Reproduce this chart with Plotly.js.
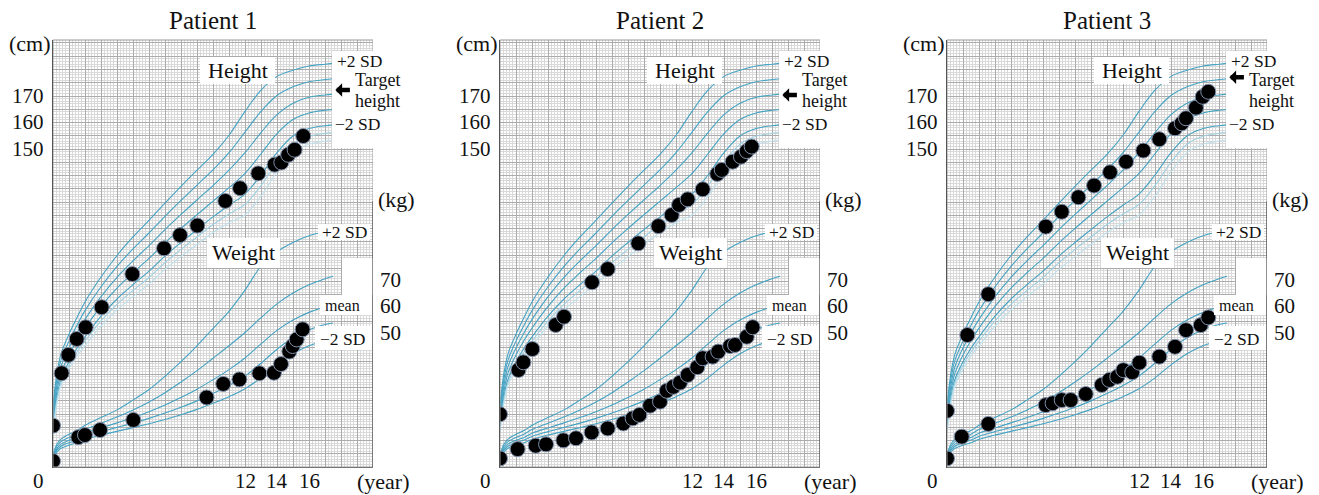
<!DOCTYPE html>
<html><head><meta charset="utf-8">
<script src="https://cdn.plot.ly/plotly-3.0.1.min.js"></script>
<style>html,body{margin:0;padding:0;background:#fff}#chart{width:1319px;height:495px}</style>
</head><body><div id="chart"></div>
<script>
// ---------- data ----------
const patientTitles = ["Patient 1", "Patient 2", "Patient 3"];
const curveAges = [0, 0.25, 0.5, 1, 1.5, 2, 3, 4, 5, 6, 7, 8, 9, 10, 11, 12, 13, 14, 15, 16, 17, 17.5];
// height reference curves (cm)
const hPlus2  = [53.2, 65.6, 72.7, 80.1, 86.4, 92.3, 101.7, 109.8, 116.8, 123.1, 129.6, 135.9, 142.0, 148.0, 155.2, 164.2, 172.2, 177.4, 179.7, 181.3, 182.0, 182.3];
const hPlus1  = [51.1, 63.3, 70.3, 77.5, 83.5, 89.0, 98.0, 105.7, 112.3, 118.3, 124.6, 130.6, 136.4, 142.1, 148.6, 156.4, 164.2, 170.2, 173.5, 175.4, 176.2, 176.5];
const hMean   = [49.0, 61.0, 67.9, 74.9, 80.6, 85.7, 94.3, 101.6, 107.8, 113.5, 119.6, 125.3, 130.8, 136.2, 142.0, 148.6, 156.2, 163.0, 167.3, 169.5, 170.4, 170.7];
const hMinus1 = [46.9, 58.7, 65.5, 72.3, 77.7, 82.4, 90.6, 97.5, 103.3, 108.7, 114.6, 120.0, 125.2, 130.3, 135.4, 140.8, 148.2, 155.8, 161.1, 163.6, 164.6, 164.9];
const hMinus2 = [44.8, 56.4, 63.1, 69.7, 74.8, 79.1, 86.9, 93.4, 98.8, 103.9, 109.6, 114.7, 119.6, 124.4, 128.8, 133.0, 140.2, 148.6, 154.9, 157.7, 158.8, 159.1];
const hMinus25= [43.8, 55.3, 61.9, 68.4, 73.4, 77.5, 85.1, 91.4, 96.6, 101.5, 107.1, 112.1, 116.8, 121.5, 125.5, 129.1, 136.2, 145.0, 151.8, 154.8, 155.9, 156.2];
const hMinus3 = [42.7, 54.1, 60.7, 67.1, 71.9, 75.8, 83.2, 89.3, 94.3, 99.1, 104.6, 109.4, 114.0, 118.5, 122.2, 125.2, 132.2, 141.4, 148.7, 151.8, 153.0, 153.3];
// weight reference curves (kg)
const wPlus2  = [3.9, 7.9, 9.8, 11.6, 13.0, 15.0, 17.9, 20.8, 24.5, 28.5, 33.5, 39.0, 45.0, 51.5, 58.0, 66.0, 75.0, 80.5, 84.0, 86.5, 88.0, 88.5];
const wPlus1  = [3.4, 7.1, 8.8, 10.4, 11.6, 13.4, 15.8, 18.1, 20.8, 23.8, 27.3, 31.3, 35.6, 40.3, 45.0, 50.0, 55.6, 60.8, 64.9, 68.0, 70.3, 71.2];
const wMean   = [3.0, 6.3, 7.9, 9.3, 10.4, 12.0, 14.0, 15.9, 17.9, 20.1, 22.6, 25.5, 28.6, 32.2, 36.0, 40.4, 45.7, 50.8, 54.7, 57.6, 59.6, 60.3];
const wMinus1 = [2.6, 5.6, 7.1, 8.4, 9.4, 10.8, 12.6, 14.2, 15.8, 17.6, 19.6, 21.8, 24.2, 27.0, 30.0, 33.6, 38.4, 43.7, 48.0, 51.0, 53.0, 53.6];
const wMinus2 = [2.2, 4.9, 6.3, 7.5, 8.4, 9.7, 11.3, 12.7, 14.1, 15.6, 17.2, 19.0, 21.0, 23.3, 25.8, 28.8, 32.9, 37.8, 42.0, 45.0, 47.0, 47.6];
// patient measurements
const p1HeightAge = [0, 0.54, 0.96, 1.48, 2.04, 3.04, 4.96, 6.94, 7.94, 9.02, 10.77, 11.69, 12.83, 13.85, 14.27, 14.7, 15.1, 15.64];
const p1Height    = [45.6, 65.4, 72.3, 78.3, 82.7, 90.3, 102.8, 112.5, 117.5, 121.1, 130.4, 135.2, 140.8, 144.1, 144.9, 147.8, 149.7, 154.9];
const p1WeightAge = [0, 1.58, 2.0, 2.94, 5.02, 9.6, 10.64, 11.65, 12.9, 13.81, 14.25, 14.77, 14.98, 15.23, 15.6];
const p1Weight    = [1.5, 10.5, 11.3, 13.2, 17.0, 25.5, 30.6, 32.3, 34.6, 34.8, 38.1, 42.8, 44.9, 47.4, 51.2];
const p2HeightAge = [0, 1.15, 1.46, 2.02, 3.48, 4.0, 5.75, 6.73, 8.64, 9.9, 10.73, 11.19, 11.73, 12.67, 13.58, 13.86, 14.54, 15.06, 15.42, 15.73];
const p2Height    = [49.9, 66.6, 69.5, 74.5, 83.6, 86.7, 99.7, 104.7, 114.4, 120.9, 125.1, 128.9, 131.0, 134.8, 140.6, 142.1, 145.2, 147.1, 149.2, 150.9];
const p2WeightAge = [0, 1.1, 2.23, 2.88, 3.96, 4.75, 5.73, 6.73, 7.71, 8.29, 8.71, 9.38, 10.0, 10.42, 10.83, 11.25, 11.73, 12.33, 12.67, 13.29, 13.64, 14.38, 14.69, 15.42, 15.79];
const p2Weight    = [2.5, 6.0, 7.3, 7.8, 9.3, 10.1, 12.3, 13.8, 15.7, 17.6, 18.9, 22.4, 23.9, 28.0, 29.5, 31.1, 34.0, 36.9, 40.3, 40.9, 42.8, 44.9, 45.3, 48.4, 52.0];
const p3HeightAge = [0, 1.27, 2.58, 6.17, 7.17, 8.21, 9.19, 10.19, 11.19, 12.27, 13.27, 14.25, 14.67, 14.94, 15.56, 15.98, 16.33];
const p3Height    = [51.2, 79.8, 95.2, 120.7, 126.3, 131.8, 136.2, 141.2, 145.2, 149.4, 153.7, 157.8, 159.7, 161.6, 165.6, 169.7, 171.6];
const p3WeightAge = [0, 0.92, 2.58, 6.17, 6.6, 7.17, 7.73, 8.67, 9.67, 10.14, 10.64, 11.02, 11.58, 12.02, 13.27, 14.25, 14.94, 15.86, 16.33];
const p3Weight    = [2.5, 10.7, 15.5, 22.6, 23.3, 24.5, 24.5, 26.8, 30.2, 32.1, 33.3, 35.8, 35.0, 38.6, 40.9, 44.6, 50.9, 52.8, 55.7];
const targetHeight = [172.3, 170.4, 177.1];
const heightTicks = [150, 160, 170];
const weightTicks = [50, 60, 70];
const yearTicks = [12, 14, 16];

// ---------- layout helpers ----------
const W = 1319, H = 495;
const panelLeft = [53, 500, 947];
const PW = 320, TOP = 40, BOT = 467;
const hRange = [30, 191.13];
const wRange = [-0.75, 160.38];
const FONT = "Liberation Serif, Times New Roman, serif";
const MAJ = "#ababab", MIN = "#d9d9d9";
const CUR = "#45a3c3";
const px = (i, dx) => (panelLeft[i] + dx) / W;
const py = (y) => 1 - y / H;
const sfx = n => n === 1 ? "" : String(n);

const patients = [
  {ha: p1HeightAge, h: p1Height, wa: p1WeightAge, w: p1Weight},
  {ha: p2HeightAge, h: p2Height, wa: p2WeightAge, w: p2Weight},
  {ha: p3HeightAge, h: p3Height, wa: p3WeightAge, w: p3Weight}
];
const hCurves = [[hPlus2, CUR], [hPlus1, CUR], [hMean, CUR], [hMinus1, CUR], [hMinus2, CUR], [hMinus25, "#9fd0e2"], [hMinus3, "#bfe0ec"]];
const wCurves = [wPlus2, wPlus1, wMean, wMinus1, wMinus2];

const traces = [];
const layout = {
  width: W, height: H, margin: {l: 0, r: 0, t: 0, b: 0},
  paper_bgcolor: "#fff", plot_bgcolor: "#fff", showlegend: false,
  font: {family: FONT, color: "#111"},
  shapes: [], annotations: []
};

for (let i = 0; i < 3; i++) {
  const xa = "x" + sfx(i + 1), ya = "y" + sfx(2 * i + 1), yw = "y" + sfx(2 * i + 2);
  layout["xaxis" + sfx(i + 1)] = {
    domain: [px(i, 0), px(i, PW)], range: [0, 20], anchor: ya,
    tick0: 0, dtick: 1, showgrid: true, gridcolor: MAJ, gridwidth: 1,
    minor: {dtick: 0.2, showgrid: true, gridcolor: MIN, gridwidth: 1},
    showticklabels: false, ticks: "", zeroline: false,
    showline: true, linecolor: "#555", linewidth: 1.3, fixedrange: true
  };
  layout["yaxis" + sfx(2 * i + 1)] = {
    domain: [py(BOT), py(TOP)], range: hRange, anchor: xa,
    tick0: 0, dtick: 5, showgrid: true, gridcolor: MAJ, gridwidth: 1,
    minor: {dtick: 1, showgrid: true, gridcolor: MIN, gridwidth: 1},
    showticklabels: false, ticks: "", zeroline: false,
    showline: true, linecolor: "#555", linewidth: 1.3, fixedrange: true
  };
  layout["yaxis" + sfx(2 * i + 2)] = {
    overlaying: ya, anchor: xa, range: wRange, showgrid: false,
    showticklabels: false, ticks: "", zeroline: false, showline: false, fixedrange: true
  };

  hCurves.forEach(([vals, col]) => traces.push({
    type: "scatter", mode: "lines", x: curveAges, y: vals, xaxis: xa, yaxis: ya,
    line: {color: col, width: 1.1, shape: "spline", smoothing: 1}, hoverinfo: "skip"
  }));
  wCurves.forEach(vals => traces.push({
    type: "scatter", mode: "lines", x: curveAges, y: vals, xaxis: xa, yaxis: yw,
    line: {color: CUR, width: 1.1, shape: "spline", smoothing: 1}, hoverinfo: "skip"
  }));
  const p = patients[i];
  const mk = {size: 15, color: "#000", line: {color: "#8090aa", width: 1}};
  traces.push({type: "scatter", mode: "markers", x: p.ha, y: p.h, xaxis: xa, yaxis: ya, marker: mk});
  traces.push({type: "scatter", mode: "markers", x: p.wa, y: p.w, xaxis: xa, yaxis: yw, marker: mk});

  // plot frame
  layout.shapes.push({type: "rect", xref: xa, yref: ya + " domain", x0: 0, x1: 20, y0: 0, y1: 1,
    line: {color: "#999", width: 1}, layer: "above"});
  // white label boxes
  const boxes = [
    [147, 222, 57, 84], [279, 320, 51, 148],
    [154, 227, 238, 268], [265, 317, 224, 240],
    [289, 320, 258, 295], [267, 319, 295, 315], [262, 319, 326, 350]
  ];
  boxes.forEach(b => layout.shapes.push({type: "rect", xref: "paper", yref: "paper",
    x0: px(i, b[0]), x1: px(i, b[1]), y0: py(b[3]), y1: py(b[2]),
    fillcolor: "#fff", line: {width: 0}, layer: "above"}));
  // weight axis line
  layout.shapes.push({type: "line", xref: xa, yref: yw, x0: 20, x1: 20, y0: wRange[0], y1: 99.5,
    line: {color: "#555", width: 1.3}, layer: "above"});

  const A = layout.annotations;
  const txt = (text, x, y, size, xanchor) => A.push({
    text, x, y, xref: "paper", yref: "paper", showarrow: false,
    xanchor: xanchor || "center", yanchor: "middle", font: {size, family: FONT, color: "#111"}
  });
  txt(patientTitles[i], px(i, 160), py(20), 25);
  txt("(cm)", px(i, -23), py(43), 22);
  txt("(kg)", px(i, 343), py(200), 22);
  txt("(year)", px(i, 330), py(481), 22);
  txt("0", px(i, -15), py(481), 21);
  txt("Height", px(i, 185), py(70), 22);
  txt("Weight", px(i, 190.5), py(253), 22);
  txt("+2 SD", px(i, 306), py(61), 17.5);
  txt("Target", px(i, 324.5), py(80), 18);
  txt("height", px(i, 324), py(101), 18);
  txt("\u22122 SD", px(i, 304.5), py(124), 17.5);
  txt("+2 SD", px(i, 291), py(232), 17.5);
  txt("mean", px(i, 289.5), py(305), 16);
  txt("\u22122 SD", px(i, 289.5), py(339), 17.5);
  heightTicks.forEach(v => A.push({text: String(v), x: px(i, -7), xref: "paper", y: v, yref: ya,
    showarrow: false, xanchor: "right", yanchor: "middle", font: {size: 21, family: FONT, color: "#111"}}));
  weightTicks.forEach(v => A.push({text: String(v), x: px(i, 325), xref: "paper", y: v, yref: yw,
    showarrow: false, xanchor: "left", yanchor: "middle", font: {size: 21, family: FONT, color: "#111"}}));
  yearTicks.forEach(v => A.push({text: String(v), x: v, xref: xa, y: py(481), yref: "paper",
    showarrow: false, xanchor: "center", yanchor: "middle", font: {size: 21, family: FONT, color: "#111"}}));
  // target height arrow (block arrow pointing left)
  A.push({text: "", x: 17.65, xref: xa, y: targetHeight[i], yref: ya, showarrow: true,
    ax: 16, ay: 0, arrowhead: 1, arrowsize: 0.5, arrowwidth: 4.5, arrowcolor: "#000", standoff: 0});
}

Plotly.newPlot("chart", traces, layout, {staticPlot: true, displayModeBar: false});
</script></body></html>
